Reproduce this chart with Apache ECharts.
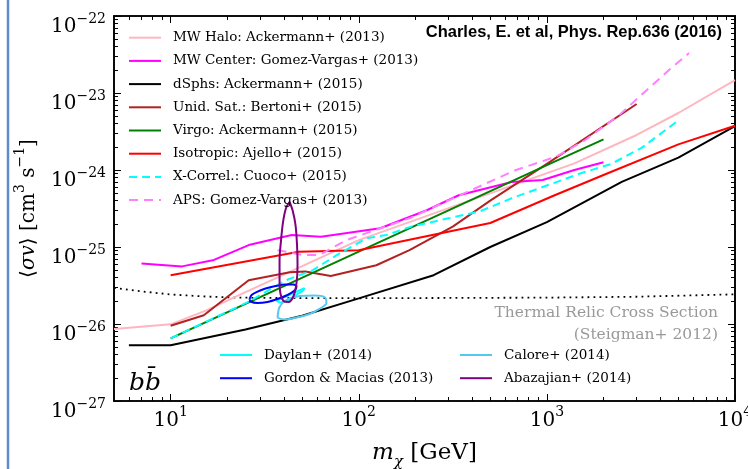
<!DOCTYPE html>
<html>
<head>
<meta charset="utf-8">
<script src="https://cdn.jsdelivr.net/npm/echarts@6/dist/echarts.min.js"></script>
<style>html,body{margin:0;padding:0;background:#fff}#chart{width:748px;height:469px}</style>
</head>
<body>
<div id="chart"></div>
<script>
// [mass GeV, <sigma v> cm^3 s^-1]
var mwHalo = [[5,8.6e-27],[10,9.9e-27],[15.5,1.5e-26],[25,2.6e-26],[41,4.5e-26],[100,1.23e-25],[1400,1.22e-24],[3000,2.85e-24],[5000,5.5e-24],[10000,1.47e-23]];
var mwCenter = [[7,6.1e-26],[11.5,5.6e-26],[17,6.8e-26],[26,1.06e-25],[44,1.43e-25],[63,1.36e-25],[130,1.75e-25],[230,3.0e-25],[340,4.7e-25],[650,7.0e-25],[950,7.4e-25],[1400,1.0e-24],[2000,1.26e-24]];
var dsphs = [[6,5.3e-27],[10,5.3e-27],[25,8.5e-27],[50,1.28e-26],[100,2.15e-26],[250,4.3e-26],[500,1.0e-25],[1000,2.1e-25],[2500,7.0e-25],[5000,1.45e-24],[10000,3.7e-24]];
var unidSat = [[10,9.5e-27],[15,1.3e-26],[26,3.7e-26],[43,4.7e-26],[52,4.8e-26],[71,4.2e-26],[124,5.8e-26],[186,9.1e-26],[316,1.84e-25],[500,4.0e-25],[1000,1.2e-24],[3000,7.2e-24]];
var virgo = [[10,6.5e-27],[100,8.7e-26],[1000,1.16e-24],[2000,2.5e-24]];
var isotropic = [[10,4.3e-26],[48,8.7e-26],[100,9.1e-26],[500,2.05e-25],[1100,4.7e-25],[2000,8.6e-25],[5000,2.15e-24],[10000,3.75e-24]];
var xCorrel = [[10,6.5e-27],[26,1.95e-26],[41,3.7e-26],[57,5.0e-26],[76,7.8e-26],[110,1.3e-25],[140,1.43e-25],[190,1.84e-25],[300,2.36e-25],[440,2.9e-25],[650,4.3e-25],[1500,9.0e-25],[2200,1.2e-24],[3200,1.95e-24],[5000,4.4e-24]];
var aps = [[37,9.1e-26],[50,7.9e-26],[62,7.9e-26],[86,1.23e-25],[186,2.36e-25],[456,6.4e-25],[685,1.0e-24],[1120,1.49e-24],[1600,2.45e-24],[2430,5.2e-24],[4470,2.0e-23],[5700,3.3e-23]];
var thermal = [[5,2.95e-26],[7,2.65e-26],[10,2.42e-26],[15,2.28e-26],[20,2.22e-26],[30,2.18e-26],[100,2.16e-26],[1000,2.2e-26],[3000,2.26e-26],[10000,2.43e-26]];

// GCE best-fit contours
var daylan = [[36.55,1.99e-26],[39.34,2.18e-26],[42.86,2.38e-26],[46.12,2.6e-26],[49.63,2.81e-26],[51.48,2.93e-26],[50.23,2.68e-26],[47.27,2.45e-26],[44.46,2.21e-26],[41.32,1.99e-26],[38.39,1.9e-26],[36.55,1.99e-26]];
var gordon = [[26.27,2.11e-26],[26.93,2.38e-26],[28.97,2.64e-26],[31.95,2.89e-26],[36.11,3.11e-26],[40.8,3.26e-26],[45.01,3.26e-26],[46.69,3.07e-26],[45.56,2.72e-26],[41.82,2.38e-26],[37.0,2.11e-26],[32.74,1.93e-26],[28.97,1.87e-26],[26.6,1.96e-26],[26.27,2.11e-26]];
var calore = [[37.0,1.2e-26],[37.93,1.66e-26],[41.32,2.05e-26],[48.43,2.31e-26],[58.18,2.35e-26],[65.74,2.24e-26],[67.36,1.87e-26],[61.84,1.57e-26],[54.73,1.35e-26],[45.56,1.2e-26],[40.31,1.14e-26],[37.0,1.2e-26]];
var abazajian = [[42.86,3.84e-25],[44.46,3.02e-25],[46.12,1.93e-25],[46.98,1.06e-25],[47.27,5.84e-26],[46.69,3.41e-26],[45.01,2.31e-26],[42.34,1.93e-26],[39.82,1.99e-26],[38.39,2.45e-26],[37.93,3.73e-26],[37.93,6.78e-26],[38.63,1.23e-25],[39.58,2.11e-25],[41.06,3.21e-25],[42.86,3.84e-25]];

var xTicks = [10, 100, 1000, 10000];
var yTicks = [1e-27, 1e-26, 1e-25, 1e-24, 1e-23, 1e-22];
var xRange = [5, 10000];
var yRange = [1e-27, 1e-22];

var lg = Math.log10;
function toLog(arr) { return arr.map(function (p) { return [lg(p[0]), lg(p[1])]; }); }
function minorTicks(lo, hi) {
    var out = [];
    for (var e = Math.floor(lg(lo)); e < Math.ceil(lg(hi)); e++) {
        for (var k = 2; k < 10; k++) {
            var v = k * Math.pow(10, e);
            if (v > lo && v < hi) out.push(lg(v));
        }
    }
    return out;
}

var SERIF = 'DejaVu Serif';

function axis(pos, range, vals, len, label) {
    return {
        type: 'value', position: pos, min: lg(range[0]), max: lg(range[1]),
        axisLine: { show: true, onZero: false, lineStyle: { color: '#000', width: 1.6 } },
        axisTick: { show: true, inside: true, length: len, customValues: vals, lineStyle: { color: '#000', width: 1 } },
        axisLabel: label || { show: false },
        splitLine: { show: false }
    };
}

var xLabel = {
    customValues: xTicks.map(lg), margin: 0, hideOverlap: false,
    formatter: function (v) { return '{b|10}{s|' + Math.round(v) + '}'; },
    rich: {
        b: { fontFamily: SERIF, fontSize: 20, lineHeight: 20, color: '#000', verticalAlign: 'top', padding: [10, 0, 0, 0] },
        s: { fontFamily: SERIF, fontSize: 14, lineHeight: 14, color: '#000', verticalAlign: 'top', padding: [4, 0, 0, 0] }
    }
};
var yLabel = {
    customValues: yTicks.map(lg), margin: 8, hideOverlap: false,
    formatter: function (v) { return '{b|10}{s|\u2212' + Math.abs(Math.round(v)) + '}'; },
    rich: {
        b: { fontFamily: SERIF, fontSize: 20, lineHeight: 20, color: '#000', verticalAlign: 'top', padding: [11, 0, 0, 0] },
        s: { fontFamily: SERIF, fontSize: 14, lineHeight: 14, color: '#000', verticalAlign: 'top', padding: [6, 0, 0, 0] }
    }
};

var xBottom = axis('bottom', xRange, xTicks.map(lg), 7, xLabel);
xBottom.name = '{i|m}{sub|\u03c7}{a| [GeV]}';
xBottom.nameLocation = 'middle';
xBottom.nameGap = 41;
xBottom.nameTextStyle = {
    rich: {
        i: { fontFamily: SERIF, fontStyle: 'italic', fontSize: 23, lineHeight: 26, color: '#000', verticalAlign: 'top' },
        sub: { fontFamily: SERIF, fontStyle: 'italic', fontSize: 15, lineHeight: 15, color: '#000', verticalAlign: 'top', padding: [13, 0, 0, 0] },
        a: { fontFamily: SERIF, fontSize: 23, lineHeight: 26, color: '#000', verticalAlign: 'top' }
    }
};

var yLeft = axis('left', yRange, yTicks.map(lg), 7, yLabel);
yLeft.name = '{a|\u27e8}{i|\u03c3v}{a|\u27e9 [cm}{s|3}{a| s}{s|\u22121}{a|]}';
yLeft.nameLocation = 'middle';
yLeft.nameRotate = 90;
yLeft.nameGap = 75;
yLeft.nameTextStyle = {
    rich: {
        a: { fontFamily: SERIF, fontSize: 20, lineHeight: 26, color: '#000', verticalAlign: 'top', padding: [6, 0, 0, 0] },
        i: { fontFamily: SERIF, fontStyle: 'italic', fontSize: 20, lineHeight: 26, color: '#000', verticalAlign: 'top', padding: [6, 0, 0, 0] },
        s: { fontFamily: SERIF, fontSize: 14, lineHeight: 14, color: '#000', verticalAlign: 'top', padding: [0, 0, 0, 0] }
    }
};

var xMinor = minorTicks(xRange[0], xRange[1]);
var yMinor = minorTicks(yRange[0], yRange[1]);

var seriesList = [
    { name: 'MW Halo: Ackermann+ (2013)', data: mwHalo, color: '#ffb6c1' },
    { name: 'MW Center: Gomez-Vargas+ (2013)', data: mwCenter, color: '#ff00ff' },
    { name: 'dSphs: Ackermann+ (2015)', data: dsphs, color: '#000000' },
    { name: 'Unid. Sat.: Bertoni+ (2015)', data: unidSat, color: '#b22222' },
    { name: 'Virgo: Ackermann+ (2015)', data: virgo, color: '#008000' },
    { name: 'Isotropic: Ajello+ (2015)', data: isotropic, color: '#ff0000' },
    { name: 'X-Correl.: Cuoco+ (2015)', data: xCorrel, color: '#00ffff', dash: [8, 5] },
    { name: 'APS: Gomez-Vargas+ (2013)', data: aps, color: '#ff80ff', dash: [9, 6] },
    { name: 'Daylan+ (2014)', data: daylan, color: '#00ffff', smooth: 0.3 },
    { name: 'Gordon & Macias (2013)', data: gordon, color: '#0000ff', smooth: 0.3 },
    { name: 'Calore+ (2014)', data: calore, color: '#55c8f0', smooth: 0.3 },
    { name: 'Abazajian+ (2014)', data: abazajian, color: '#800080', smooth: 0.3 }
];

var series = [{
    name: 'thermal', type: 'line', data: toLog(thermal), symbol: 'none', silent: true,
    lineStyle: { color: '#000', width: 1.8, type: [1.8, 4.2] }, z: 1
}];
seriesList.forEach(function (s) {
    series.push({
        name: s.name, type: 'line', data: toLog(s.data), symbol: 'none', silent: true,
        smooth: s.smooth || false,
        itemStyle: { color: s.color },
        lineStyle: { color: s.color, width: 2, type: s.dash || 'solid' }
    });
});

var legendText = { fontFamily: SERIF, fontSize: 13.5, lineHeight: 14, color: '#000', padding: [0, 0, 0, 7] };
function legend(names, left, top) {
    return {
        data: names, orient: 'vertical', left: left, top: top, itemWidth: 32, itemHeight: 14,
        itemGap: 9.2, textStyle: legendText, selectedMode: false, padding: 0,
        itemStyle: { opacity: 0, borderWidth: 0 }
    };
}

var chart = echarts.init(document.getElementById('chart'));
chart.setOption({
    animation: false,
    grid: { left: 114, right: 13, top: 16, bottom: 68, outerBoundsMode: 'none', containLabel: false },
    xAxis: [
        xBottom,
        axis('bottom', xRange, xMinor, 4),
        axis('top', xRange, xTicks.map(lg), 7),
        axis('top', xRange, xMinor, 4)
    ],
    yAxis: [
        yLeft,
        axis('left', yRange, yMinor, 4),
        axis('right', yRange, yTicks.map(lg), 7),
        axis('right', yRange, yMinor, 4)
    ],
    legend: [
        legend(seriesList.slice(0, 8).map(function (s) { return s.name; }), 128, 30.7),
        legend(['Daylan+ (2014)', 'Gordon & Macias (2013)'], 219, 348),
        legend(['Calore+ (2014)', 'Abazajian+ (2014)'], 459, 348)
    ],
    graphic: [
        { type: 'line', shape: { x1: 8, y1: 0, x2: 8, y2: 469 }, style: { stroke: '#5b8ccc', lineWidth: 2.5 } },
        { type: 'text', x: 722, y: 32, style: { text: 'Charles, E. et al, Phys. Rep.636 (2016)', font: 'bold 16.5px "Liberation Sans"', fill: '#000', align: 'right', verticalAlign: 'middle', textAlign: 'right', textVerticalAlign: 'middle' } },
        { type: 'text', x: 718, y: 313, style: { text: 'Thermal Relic Cross Section', font: '15.5px "DejaVu Serif"', fill: '#999', align: 'right', verticalAlign: 'middle', textAlign: 'right', textVerticalAlign: 'middle' } },
        { type: 'text', x: 718, y: 335, style: { text: '(Steigman+ 2012)', font: '15.5px "DejaVu Serif"', fill: '#999', align: 'right', verticalAlign: 'middle', textAlign: 'right', textVerticalAlign: 'middle' } },
        { type: 'text', x: 145, y: 383, style: { text: 'bb\u0304', font: 'italic 25px "DejaVu Serif"', fill: '#000', align: 'center', verticalAlign: 'middle', textAlign: 'center', textVerticalAlign: 'middle' } }
    ],
    series: series
});
</script>
</body>
</html>
